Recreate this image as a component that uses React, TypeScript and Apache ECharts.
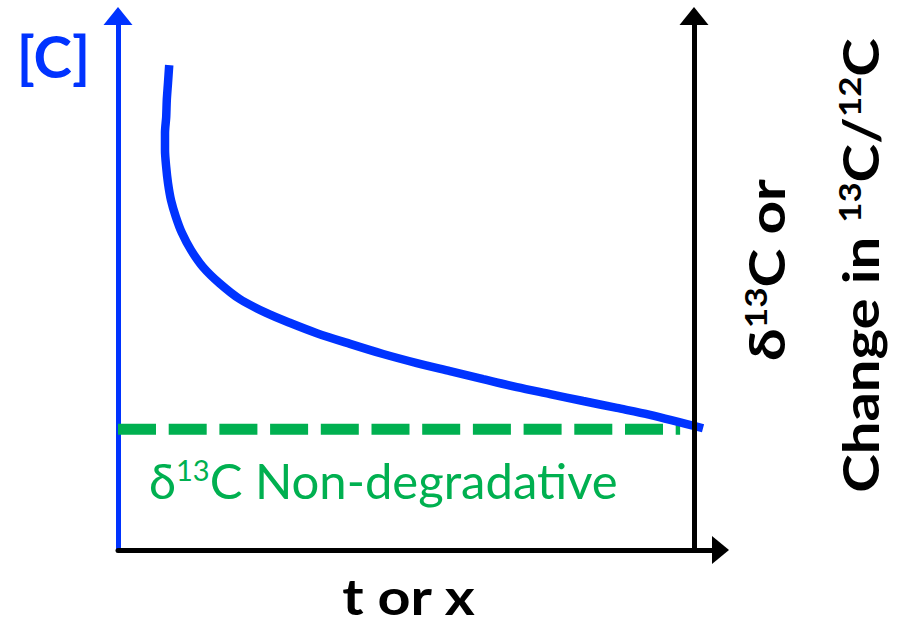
import React, { useEffect, useRef } from "react";
import * as echarts from "echarts";

// Blue concentration curve [C] (x = t or x, y = relative level)
const curveX = [8.5, 8.3, 8.1, 8.0, 7.8, 7.8, 8.0, 8.3, 8.8, 9.6, 10.6, 12.1, 14.1, 16.8, 20.2, 24.6, 28.6, 33.0, 38.5, 44.0, 49.6, 55.1, 60.6, 66.2, 71.7, 77.2, 82.8, 88.3, 97.1];
const curveY = [90.8, 87.5, 84.3, 81.1, 78.1, 74.9, 71.7, 68.7, 65.5, 62.4, 59.4, 56.2, 53.0, 50.0, 47.0, 44.4, 42.5, 40.6, 38.6, 36.7, 35.0, 33.5, 32.0, 30.5, 29.2, 27.9, 26.6, 25.3, 22.8];

// Green dashed non-degradative δ13C level
const baselineX = [0, 93.3];
const baselineY = [22.6, 22.6];

const xLabel = "t or x";
const leftLabel = "[C]";
const greenLabel = "δ{s|13}C Non-degradative";
const rightLabel1 = "δ{s|13}C or";
const rightLabel2 = "Change in {s|13}C/{s|12}C";

const BLUE = "#0033ff";
const GREEN = "#00b050";
const FONT = "Lato";

export default function App() {
  const ref = useRef<HTMLDivElement>(null);
  useEffect(() => {
    document.body.style.margin = "0";
    const chart = echarts.init(ref.current!, null, { renderer: "svg" });
    const curve = curveX.map((x, i) => [x, curveY[i]]);
    const base = baselineX.map((x, i) => [x, baselineY[i]]);
    chart.setOption({
      animation: false,
      grid: { left: 118, right: 176.5, top: 16, bottom: 75, outerBoundsMode: "none", containLabel: false },
      xAxis: {
        type: "value",
        min: 0,
        max: 100,
        axisLine: {
          show: true,
          onZero: false,
          symbol: ["none", "triangle"],
          symbolSize: [28, 17],
          lineStyle: { color: "#000", width: 5 },
        },
        axisTick: { show: false },
        axisLabel: { show: false },
        splitLine: { show: false },
      },
      yAxis: [
        {
          type: "value",
          min: 0,
          max: 100,
          position: "left",
          axisLine: {
            show: true,
            onZero: false,
            symbol: ["none", "triangle"],
            symbolSize: [29, 18],
            lineStyle: { color: BLUE, width: 5 },
          },
          axisTick: { show: false },
          axisLabel: { show: false },
          splitLine: { show: false },
        },
        {
          type: "value",
          min: 0,
          max: 100,
          position: "right",
          offset: -26.5,
          z: 10,
          axisLine: {
            show: true,
            onZero: false,
            symbol: ["none", "triangle"],
            symbolSize: [29, 18],
            lineStyle: { color: "#000", width: 5 },
          },
          axisTick: { show: false },
          axisLabel: { show: false },
          splitLine: { show: false },
        },
      ],
      series: [
        {
          type: "line",
          data: base,
          showSymbol: false,
          clip: false,
          z: 2,
          lineStyle: { color: GREEN, width: 11, type: [38, 12.7], cap: "butt" },
        },
        {
          type: "line",
          data: curve,
          showSymbol: false,
          clip: false,
          smooth: 0.3,
          z: 3,
          lineStyle: { color: BLUE, width: 8.5, cap: "butt" },
        },
      ],
      graphic: [
        {
          type: "text",
          x: 53.5,
          y: 55.5,
          style: { text: leftLabel, fontFamily: FONT, fontWeight: "bold", fontSize: 58, fill: BLUE, align: "center", verticalAlign: "middle" },
        },
        {
          type: "text",
          x: 408.5,
          y: 595.6,
          scaleX: 1.15,
          style: { text: xLabel, fontFamily: FONT, fontWeight: "bold", fontSize: 50, fill: "#000", align: "center", verticalAlign: "middle" },
        },
        {
          type: "text",
          x: 149,
          y: 479.5,
          style: {
            text: greenLabel,
            fontFamily: FONT,
            fontSize: 49,
            fill: GREEN,
            align: "left",
            verticalAlign: "middle",
            rich: { s: { fontFamily: FONT, fontSize: 29, fill: GREEN, verticalAlign: "top" } },
          },
        },
        {
          type: "text",
          x: 765.6,
          y: 270,
          rotation: Math.PI / 2,
          scaleX: 1.17,
          style: {
            text: rightLabel1,
            fontFamily: FONT,
            fontWeight: "bold",
            fontSize: 50,
            fill: "#000",
            align: "center",
            verticalAlign: "middle",
            rich: { s: { fontFamily: FONT, fontWeight: "bold", fontSize: 30, fill: "#000", verticalAlign: "top" } },
          },
        },
        {
          type: "text",
          x: 859.6,
          y: 265.5,
          rotation: Math.PI / 2,
          scaleX: 1.16,
          style: {
            text: rightLabel2,
            fontFamily: FONT,
            fontWeight: "bold",
            fontSize: 50,
            fill: "#000",
            align: "center",
            verticalAlign: "middle",
            rich: { s: { fontFamily: FONT, fontWeight: "bold", fontSize: 30, fill: "#000", verticalAlign: "top" } },
          },
        },
      ],
    });
    return () => chart.dispose();
  }, []);
  return <div ref={ref} style={{ position: "absolute", left: 0, top: 0, width: 897, height: 625 }} />;
}
